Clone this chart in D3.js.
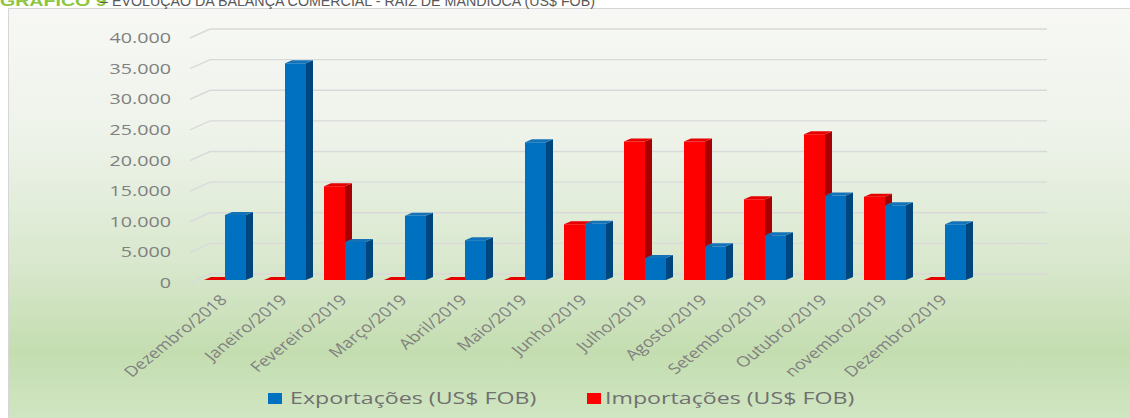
<!DOCTYPE html>
<html><head><meta charset="utf-8">
<script src="https://cdn.jsdelivr.net/npm/d3@7"></script>
<style>html,body{margin:0;padding:0;background:#fff;overflow:hidden}</style>
</head><body>
<svg id="c" width="1130" height="418"></svg>
<script>
const months = ["Dezembro/2018","Janeiro/2019","Fevereiro/2019","Março/2019","Abril/2019","Maio/2019","Junho/2019","Julho/2019","Agosto/2019","Setembro/2019","Outubro/2019","novembro/2019","Dezembro/2019"];
const importacoes = [0, 0, 15300, 0, 0, 0, 9100, 22600, 22600, 13200, 23800, 13600, 0];
const exportacoes = [10600, 35400, 6200, 10500, 6500, 22500, 9200, 3600, 5500, 7300, 13800, 12200, 9100];
const yTicks = [0, 5000, 10000, 15000, 20000, 25000, 30000, 35000, 40000];
const seriesNames = ["Exportações (US$ FOB)", "Importações (US$ FOB)"];

const svg = d3.select("#c");
const defs = svg.append("defs");
const bg = defs.append("linearGradient").attr("id","bg").attr("x1",0).attr("y1",0).attr("x2",0).attr("y2",1);
[[0,"#f7f8f5"],[0.3,"#eef3ea"],[0.6,"#d9e8ce"],[0.82,"#c4ddb0"],[1,"#d2e7c5"]].forEach(s=>bg.append("stop").attr("offset",s[0]).attr("stop-color",s[1]));

svg.append("rect").attr("x",8.5).attr("y",8.5).attr("width",1130).attr("height",420)
  .attr("fill","url(#bg)").attr("stroke","#d6d6d6");

// title (cropped at top, as in the reference)
svg.append("text").attr("transform","translate(0,6) scale(1.4,1)")
  .attr("font-family","Liberation Sans, Arial").attr("font-size",14)
  .attr("fill","#8cc63e").attr("font-weight","bold").text("GRÁFICO 9");
svg.append("text").attr("transform","translate(100,6) scale(0.92,1)")
  .attr("font-family","Liberation Sans, Arial").attr("font-size",15.5)
  .attr("fill","#595959").text("– EVOLUÇÃO DA BALANÇA COMERCIAL - RAIZ DE MANDIOCA (US$ FOB)");

const y = d3.scaleLinear().domain([0,40000]).range([283,38]);
const x = d3.scaleBand().domain(months).range([195,975]).paddingInner(0.3).paddingOuter(0.15);
const bw = x.bandwidth()/2;
const dx = 7, dy = 3;       // bar depth
const wallDx = 20, wallDy = 9; // back wall offset
const fmt = v => d3.format(",")(v).replace(/,/g,".");

// gridlines
const g = svg.append("g");
yTicks.forEach(v=>{
  g.append("path").attr("fill","none").attr("stroke","#d9d9d9").attr("stroke-width",1.4)
   .attr("d",`M190,${y(v)}L${190+wallDx},${y(v)-wallDy}L1047,${y(v)-wallDy}`);
});

// y labels
svg.append("g").selectAll("text").data(yTicks).join("text")
  .attr("transform",d=>`translate(171,${y(d)+5}) scale(1.45,1)`)
  .attr("text-anchor","end").attr("font-family","Open Sans").attr("font-size",13.6)
  .attr("fill","#808080").text(d=>fmt(d));

// bars
const colors = {
  imp: {front:"#ff0000", side:"#a80000", top:"#e60000"},
  exp: {front:"#0070c0", side:"#00467e", top:"#1473b8"}
};
function bar(gr, x0, v, c){
  const yt = y(v) - dy, yb = y(0) - dy;
  gr.append("path").attr("fill",c.front).attr("d",`M${x0},${yb}L${x0},${yt}L${x0+bw},${yt}L${x0+bw},${yb}Z`);
  gr.append("path").attr("fill",c.side).attr("d",`M${x0+bw},${yb}L${x0+bw},${yt}L${x0+bw+dx},${yt-dy}L${x0+bw+dx},${yb-dy}Z`);
  gr.append("path").attr("fill",c.top).attr("d",`M${x0},${yt}L${x0+dx},${yt-dy}L${x0+bw+dx},${yt-dy}L${x0+bw},${yt}Z`);
}
const bars = svg.append("g");
months.forEach((m,i)=>{
  const gi = bars.append("g");
  bar(gi, x(m), importacoes[i], colors.imp);
  bar(gi, x(m)+bw, exportacoes[i], colors.exp);
});

// x labels
svg.append("g").selectAll("text").data(months).join("text")
  .attr("transform",d=>`translate(${x(d)+bw+3},301) scale(1.25,1) rotate(-45)`)
  .attr("text-anchor","end").attr("font-family","Open Sans").attr("font-size",14.5)
  .attr("fill","#808080").text(d=>d);

// legend
const leg = svg.append("g");
const legItems = [{name:seriesNames[0], c:colors.exp.front, sx:268, tx:290},{name:seriesNames[1], c:colors.imp.front, sx:587, tx:605}];
legItems.forEach(d=>{
  leg.append("rect").attr("x",d.sx).attr("y",393).attr("width",14).attr("height",11).attr("fill",d.c);
  leg.append("text").attr("transform",`translate(${d.tx},404) scale(1.45,1)`)
    .attr("font-family","Open Sans").attr("font-size",16).attr("fill","#707070").text(d.name);
});
</script>
</body></html>
